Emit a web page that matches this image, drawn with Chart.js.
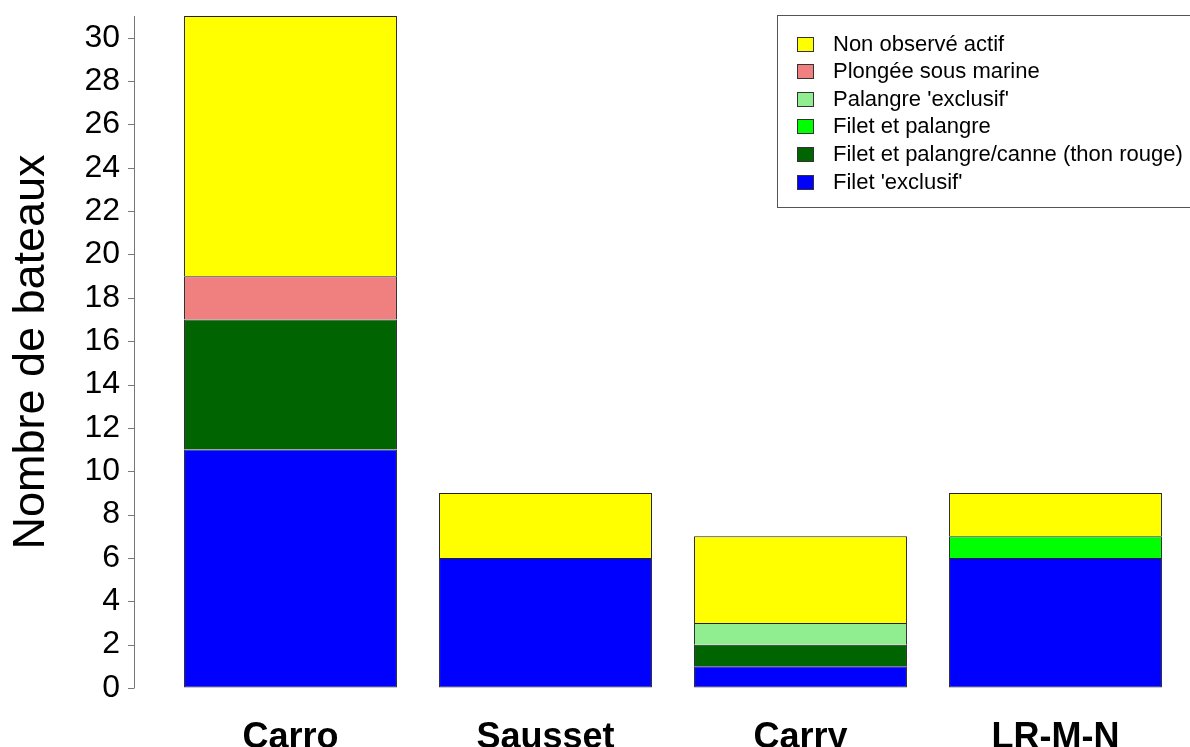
<!DOCTYPE html>
<html>
<head>
<meta charset="utf-8">
<script src="https://cdn.jsdelivr.net/npm/chart.js@4/dist/chart.umd.min.js"></script>
<style>
  body { margin: 0; background: #fff; }
</style>
</head>
<body>
<canvas id="bateaux" width="1190" height="747"></canvas>
<script>
const categories = ['Carro', 'Sausset', 'Carry', 'LR-M-N'];

// nombre de bateaux par activité (du bas vers le haut de la pile)
const filetExclusif = [11, 6, 1, 6];
const filetPalangreCanne = [6, 0, 1, 0];
const filetPalangre = [0, 0, 0, 1];
const palangreExclusif = [0, 0, 1, 0];
const plongee = [2, 0, 0, 0];
const nonObserve = [12, 3, 4, 2];

const yTicks = [0, 2, 4, 6, 8, 10, 12, 14, 16, 18, 20, 22, 24, 26, 28, 30];

const FONT = "'Liberation Sans', Arial, sans-serif";
const segBorder = { top: 1, left: 1, right: 1, bottom: 0 };

function serie(label, data, color, border) {
    return {
        label: label,
        data: data,
        backgroundColor: color,
        borderColor: '#222',
        borderWidth: border || segBorder,
        borderSkipped: false
    };
}

const data = {
    labels: categories,
    datasets: [
        serie("Filet 'exclusif'", filetExclusif, '#0000FF', 1),
        serie('Filet et palangre/canne (thon rouge)', filetPalangreCanne, '#006400'),
        serie('Filet et palangre', filetPalangre, '#00FF00'),
        serie("Palangre 'exclusif'", palangreExclusif, '#90EE90'),
        serie('Plongée sous marine', plongee, '#F08080'),
        serie('Non observé actif', nonObserve, '#FFFF00')
    ]
};

// axe Y façon R : ligne de 0 au sommet, petits traits à gauche
const axeR = {
    id: 'axeR',
    afterDraw(chart) {
        const y = chart.scales.y;
        const ctx = chart.ctx;
        const x0 = 134;
        ctx.save();
        ctx.strokeStyle = '#777';
        ctx.lineWidth = 1;
        ctx.beginPath();
        ctx.moveTo(x0 + 0.5, y.getPixelForValue(0));
        ctx.lineTo(x0 + 0.5, y.getPixelForValue(y.max));
        y.ticks.forEach(t => {
            const py = Math.round(y.getPixelForValue(t.value)) + 0.5;
            ctx.moveTo(x0 - 6, py);
            ctx.lineTo(x0 + 0.5, py);
        });
        ctx.stroke();
        ctx.restore();
    }
};

// légende encadrée en haut à droite
const legendeR = {
    id: 'legendeR',
    afterDraw(chart) {
        const ctx = chart.ctx;
        const sets = chart.data.datasets.slice().reverse();
        ctx.save();
        ctx.fillStyle = '#fff';
        ctx.fillRect(777, 15, 420, 192);
        ctx.strokeStyle = '#555';
        ctx.lineWidth = 1;
        ctx.strokeRect(777.5, 15.5, 420, 192);
        ctx.font = '22px ' + FONT;
        ctx.textBaseline = 'middle';
        sets.forEach((ds, i) => {
            const cy = 43.5 + i * 27.6;
            ctx.fillStyle = ds.backgroundColor;
            ctx.fillRect(797, Math.round(cy - 7), 16, 14);
            ctx.strokeStyle = '#333';
            ctx.strokeRect(797.5, Math.round(cy - 7) + 0.5, 16, 14);
            ctx.fillStyle = '#000';
            ctx.fillText(ds.label, 833, cy + 1);
        });
        ctx.restore();
    }
};

const config = {
    type: 'bar',
    data: data,
    options: {
        responsive: false,
        animation: false,
        layout: { padding: { top: 16, right: 7, left: 0, bottom: 0 } },
        datasets: {
            bar: { barPercentage: 1, categoryPercentage: 0.835 }
        },
        plugins: {
            legend: { display: false },
            tooltip: { enabled: false }
        },
        scales: {
            x: {
                stacked: true,
                grid: { display: false },
                border: { display: false },
                ticks: {
                    color: '#000',
                    font: { family: FONT, size: 36, weight: 'bold' },
                    padding: 20
                },
                afterFit(scale) { scale.height = 59; }
            },
            y: {
                stacked: true,
                min: 0,
                max: 31,
                grid: {
                    display: true,
                    drawOnChartArea: false,
                    drawTicks: true,
                    tickLength: 43,
                    color: 'rgba(0,0,0,0)'
                },
                border: { display: false },
                afterBuildTicks(axis) {
                    axis.ticks = yTicks.map(v => ({ value: v }));
                },
                ticks: {
                    color: '#000',
                    font: { family: FONT, size: 32, lineHeight: 1 },
                    padding: 0
                },
                title: {
                    display: true,
                    text: 'Nombre de bateaux',
                    color: '#000',
                    font: { family: FONT, size: 45 },
                    padding: { top: 5, bottom: 0 }
                },
                afterFit(scale) { scale.width = 163; }
            }
        }
    },
    plugins: [axeR, legendeR]
};

const myChart = new Chart(document.getElementById('bateaux'), config);
</script>
</body>
</html>
